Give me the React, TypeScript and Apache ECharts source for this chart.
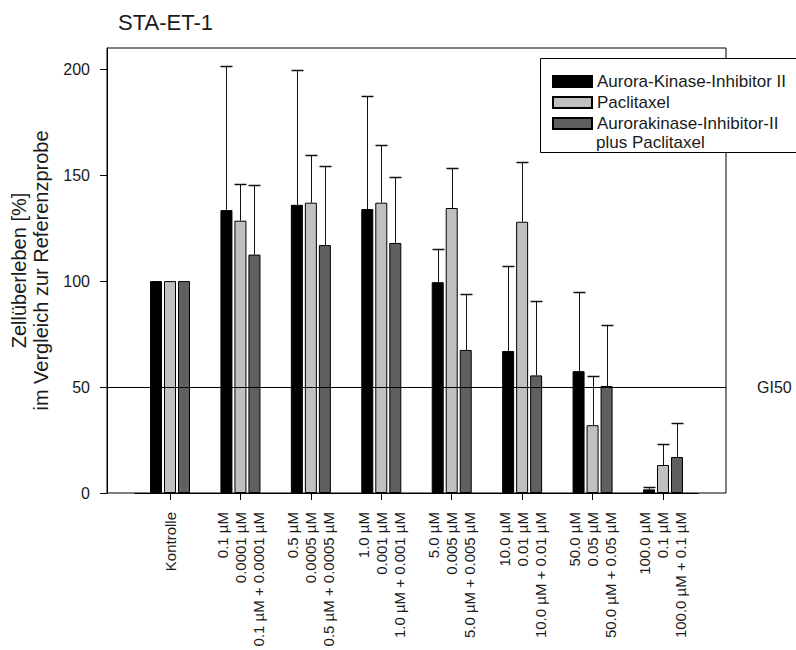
import React, { useEffect, useRef } from 'react';
import * as echarts from 'echarts';

const auroraDoses = ['0.1 µM', '0.5 µM', '1.0 µM', '5.0 µM', '10.0 µM', '50.0 µM', '100.0 µM'];
const paclitaxelDoses = ['0.0001 µM', '0.0005 µM', '0.001 µM', '0.005 µM', '0.01 µM', '0.05 µM', '0.1 µM'];
const categories = [
  'Kontrolle',
  ...auroraDoses.map((a, i) => `${a}\n${paclitaxelDoses[i]}\n${a} + ${paclitaxelDoses[i]}`),
];

const seriesNames = ['Aurora-Kinase-Inhibitor II', 'Paclitaxel', 'Aurorakinase-Inhibitor-II\nplus Paclitaxel'];

const aurora = [100, 133.5, 136, 134, 99.5, 67, 57.5, 1.7];
const auroraSD = [0, 68, 63.5, 53.5, 15.5, 40, 37.5, 1.2];
const paclitaxel = [100, 128.5, 137, 137, 134.5, 128, 32, 13.2];
const paclitaxelSD = [0, 17.5, 22.5, 27, 19, 28, 23, 10];
const combo = [100, 112.5, 117, 118, 67.5, 55.5, 50.5, 17];
const comboSD = [0, 33, 37.5, 31, 26.5, 35, 29, 16];

const yTicks = [0, 50, 100, 150, 200];
const gi50 = 50;

const colors = ['#000000', '#c0c0c0', '#606060'];
const FONT = '"Liberation Sans", Arial, sans-serif';
const BAR_W = 12;
const BAR_GAP = 2;

export default function App() {
  const ref = useRef<HTMLDivElement>(null);
  useEffect(() => {
    if (!ref.current) return;
    const chart = echarts.init(ref.current, undefined, { renderer: 'svg' });
    const means = [aurora, paclitaxel, combo];
    const sds = [auroraSD, paclitaxelSD, comboSD];

    const barSeries = means.map((m, k) => ({
      name: seriesNames[k],
      type: 'bar',
      xAxisIndex: 0,
      yAxisIndex: 0,
      data: m,
      barWidth: BAR_W,
      barGap: `${(BAR_GAP / BAR_W) * 100}%`,
      itemStyle: { color: colors[k], borderColor: '#000', borderWidth: 1 },
      z: 2,
    }));

    const errSeries = means.map((m, k) => {
      const offset = (k - 1) * (BAR_W + BAR_GAP);
      return {
        name: 'err' + k,
        type: 'custom',
        xAxisIndex: 0,
        yAxisIndex: 0,
        z: 3,
        data: m.map((v, i) => [i, v, sds[k][i]]),
        encode: { x: 0, y: 1 },
        renderItem: (params: any, api: any) => {
          const i = api.value(0);
          const mean = api.value(1);
          const sd = api.value(2);
          if (!sd) return { type: 'group', children: [] };
          const base = api.coord([i, mean]);
          const top = api.coord([i, mean + sd]);
          const x = Math.round(base[0] + offset) + 0.5;
          const ty = Math.round(top[1]) + 0.5;
          return {
            type: 'group',
            children: [
              { type: 'line', shape: { x1: x, y1: base[1], x2: x, y2: ty }, style: { stroke: '#111', lineWidth: 1 } },
              { type: 'line', shape: { x1: x - 6, y1: ty, x2: x + 6, y2: ty }, style: { stroke: '#111', lineWidth: 1.5 } },
            ],
          };
        },
      };
    });

    chart.setOption({
      animation: false,
      textStyle: { fontFamily: FONT },
      title: {
        text: 'STA-ET-1',
        left: 118,
        top: 11,
        padding: 0,
        textStyle: { fontSize: 22, fontWeight: 'normal', color: '#1a1a1a', fontFamily: FONT },
      },
      legend: {
        orient: 'vertical',
        left: 552,
        top: 71,
        padding: 0,
        itemWidth: 39,
        itemHeight: 11,
        itemGap: 0,
        icon: 'rect',
        z: 6,
        data: seriesNames,
        formatter: (name: string) => name.split('\n')[0],
        textStyle: { fontSize: 17, lineHeight: 21, color: '#1a1a1a', fontFamily: FONT },
      },
      graphic: [
        {
          type: 'rect',
          z: 3,
          shape: { x: 540.5, y: 58.5, width: 280, height: 94 },
          style: { fill: '#fff', stroke: '#000', lineWidth: 1 },
        },
        {
          type: 'text',
          z: 7,
          x: 596,
          y: 142,
          style: {
            text: seriesNames[2].split('\n')[1],
            font: `17px ${FONT}`,
            fill: '#1a1a1a',
            textVerticalAlign: 'middle',
          },
        },
      ],
      grid: [
        { left: 134.8, right: 97.8, top: 48, bottom: 157 },
        { left: 107, right: 70, top: 48, bottom: 157, show: true, borderColor: '#000', borderWidth: 1, backgroundColor: 'transparent' },
      ],
      xAxis: [
        {
          gridIndex: 0,
          type: 'category',
          data: categories,
          axisLine: { show: true, lineStyle: { color: '#000' } },
          axisTick: { show: true, alignWithLabel: true, length: 7, lineStyle: { color: '#000' } },
          axisLabel: { rotate: 90, interval: 0, fontSize: 15, lineHeight: 18, margin: 19, color: '#1a1a1a' },
        },
        { gridIndex: 1, type: 'value', min: 0, max: 1, show: false },
      ],
      yAxis: [
        { gridIndex: 0, type: 'value', min: 0, max: 210, show: false },
        {
          gridIndex: 1,
          type: 'value',
          min: 0,
          max: 210,
          axisLine: { show: true, lineStyle: { color: '#000' } },
          axisTick: { show: true, length: 7, customValues: yTicks, lineStyle: { color: '#000' } },
          axisLabel: { customValues: yTicks, fontSize: 16, margin: 17, color: '#1a1a1a' },
          splitLine: { show: false },
          name: 'Zellüberleben [%]\nim Vergleich zur Referenzprobe',
          nameLocation: 'middle',
          nameGap: 50,
          nameTextStyle: { fontSize: 20, lineHeight: 22, color: '#1a1a1a', fontFamily: FONT },
        },
      ],
      series: [
        ...barSeries,
        ...errSeries,
        {
          name: 'GI50',
          type: 'line',
          xAxisIndex: 1,
          yAxisIndex: 1,
          data: [],
          z: 5,
          markLine: {
            silent: true,
            symbol: 'none',
            lineStyle: { color: '#000', width: 1, type: 'solid' },
            label: { show: true, position: 'end', formatter: 'GI50', distance: 31, fontSize: 16, color: '#1a1a1a' },
            data: [{ yAxis: gi50 }],
          },
        },
      ],
    });
    return () => chart.dispose();
  }, []);
  return <div ref={ref} style={{ position: 'absolute', left: 0, top: 0, width: 796, height: 650 }} />;
}
